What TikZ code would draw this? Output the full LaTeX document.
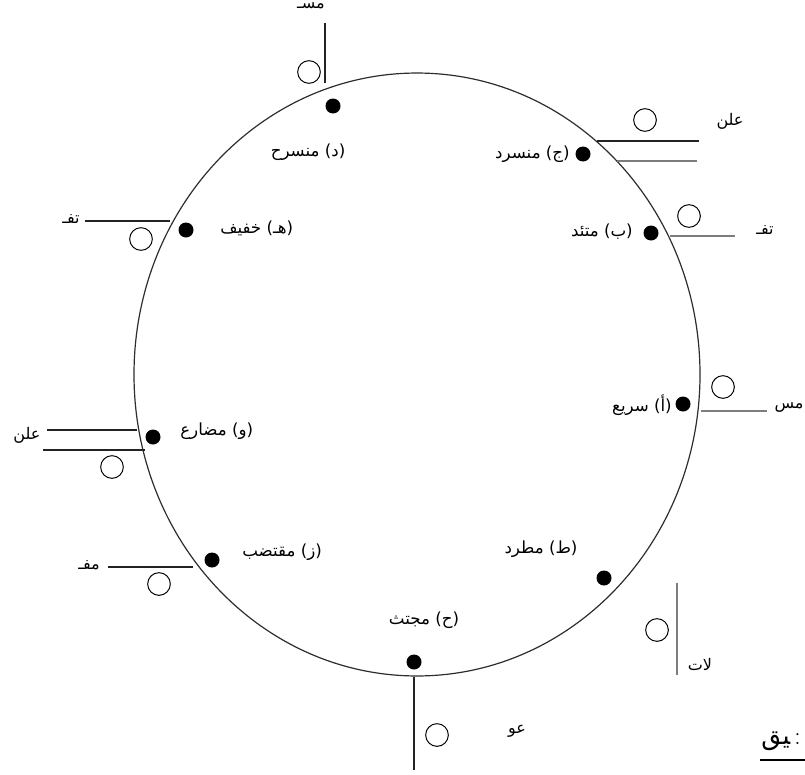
\documentclass[tikz,border=0pt]{standalone}
\usepackage{fontspec}
\usepackage{tikz}
\usetikzlibrary{positioning}
\newfontfamily\arabicfont[Script=Arabic]{DejaVu Sans}
\TeXXeTstate=1
\definecolor{ringline}{RGB}{45,45,45}
\definecolor{tickdark}{RGB}{35,35,35}
\definecolor{tickgrey}{RGB}{125,125,125}
\newcommand{\ar}[1]{{\arabicfont\beginR #1\endR}}
\tikzset{
  ring/.style={draw=ringline,line width=0.9pt},
  beat/.style={circle,fill=black,minimum size=11.25pt,inner sep=0pt},
  hollow/.style={circle,draw=black,line width=0.75pt,minimum size=17pt,inner sep=0pt},
  bar/.style={draw=tickdark,line width=0.9pt},
  greybar/.style={draw=tickgrey,line width=1.1pt},
  tag/.style={inner sep=0pt,font=\fontsize{12.5}{14}\selectfont},
  syl/.style={inner sep=0pt,font=\fontsize{12}{14}\selectfont}
}

\begin{document}
\begin{tikzpicture}[x=0.75pt,y=-0.75pt]
  \useasboundingbox (0,0) rectangle (805,774);
  \draw[ring] (417,374.5) ellipse [x radius=212.25pt,y radius=226.1pt];

  \node[beat] (a) at (683,404) {};
  \node[beat] (b) at (651,233) {};
  \node[beat] (j) at (583,154) {};
  \node[beat] (d) at (333,106) {};
  \node[beat] (h) at (186,230) {};
  \node[beat] (w) at (153,437) {};
  \node[beat] (z) at (212,560) {};
  \node[beat] (hh) at (414,662) {};
  \node[beat] (t) at (604,578) {};

  \node[tag,anchor=east] (lblA) at (672,405) {\ar{(أ) سريع}};
  \node[tag,anchor=east] (lblB) at (633,232) {\ar{(ب) متئد}};
  \node[tag,anchor=east] (lblJ) at (570,154) {\ar{(ج) منسرد}};
  \node[tag] (lblD) at (308,152) {\ar{(د) منسرح}};
  \node[tag,anchor=west] (lblH) at (220,228) {\ar{(هـ) خفيف}};
  \node[tag,anchor=west] (lblW) at (180,431) {\ar{(و) مضارع}};
  \node[tag,anchor=west] (lblZ) at (242,552) {\ar{(ز) مقتضب}};
  \node[tag] (lblHH) at (424,620) {\ar{(ح) مجتث}};
  \node[tag] (lblT) at (541,549) {\ar{(ط) مطرد}};

  \draw[bar] (325,23) -- (325,83);
  \node[hollow] (o1) at (309,72) {};
  \node[syl] (s1) at (311,6) {\ar{مسـ}};

  \draw[bar] (597,141) -- (699,141);
  \draw[greybar] (617,161) -- (697,161);
  \node[hollow] (o2) at (645,120) {};
  \node[syl] (s2) at (730,121) {\ar{علن}};

  \draw[greybar] (670,236) -- (735,236);
  \node[hollow] (o3) at (689,216) {};
  \node[syl] (s3) at (765,230) {\ar{تفـ}};

  \draw[greybar] (701,411) -- (767,411);
  \node[hollow] (o4) at (723,387) {};
  \node[syl] (s4) at (789,408) {\ar{مس}};

  \draw[greybar] (677,583) -- (677,675);
  \node[hollow] (o5) at (657,630) {};
  \node[syl] (s5) at (700,664) {\ar{لات}};

  \draw[bar] (414,677) -- (414,770);
  \node[hollow] (o6) at (437,735) {};
  \node[syl] (s6) at (517,731) {\ar{عو}};

  \draw[bar] (108,567) -- (193,567);
  \node[hollow] (o7) at (159,584) {};
  \node[syl] (s7) at (89,565) {\ar{مفـ}};

  \draw[bar] (47,430) -- (137,430);
  \draw[bar] (43,450) -- (145,450);
  \node[hollow] (o8) at (112,467) {};
  \node[syl] (s8) at (27,435) {\ar{علن}};

  \draw[bar] (85,221) -- (170,221);
  \node[hollow] (o9) at (141,239) {};
  \node[syl] (s9) at (71,219) {\ar{تفـ}};

  \node[inner sep=0pt,anchor=east,font=\fontsize{19}{21}\selectfont] (note) at (801,741) {\ar{^^^^200dيق}\,:};
  \draw[line width=2.2pt] (760,760) -- (805,760);
\end{tikzpicture}
\end{document}
